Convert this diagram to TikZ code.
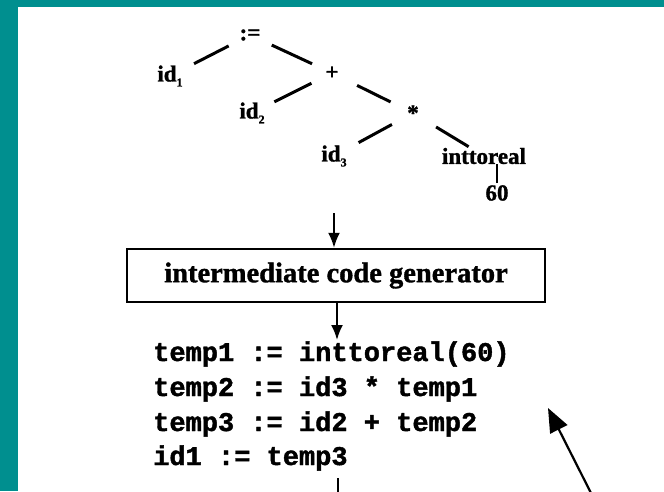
\documentclass[tikz,border=0pt]{standalone}
\usepackage{fontspec}
\setmainfont{Liberation Serif}
\setmonofont{Liberation Mono}
\newfontfamily\heavyserif[FakeBold=1.2]{Liberation Serif Bold}
\newfontfamily\heavymono[FakeBold=1.6]{Liberation Mono Bold}
\usetikzlibrary{arrows.meta}
\definecolor{frameteal}{RGB}{0,143,143}
\tikzset{
  treelabel/.style={font=\heavyserif\fontsize{23}{23}\selectfont, inner sep=0pt},
  treeedge/.style={line width=3pt},
  flowarrow/.style={line width=2pt, -{Latex[length=15pt,width=12pt]}},
  genbox/.style={draw, line width=2.4pt, minimum width=418pt, minimum height=53pt,
    inner sep=0pt, font=\heavyserif\fontsize{28.5}{28.5}\selectfont},
  codeline/.style={font=\heavymono\fontsize{27}{27}\selectfont,
    anchor=base west, inner sep=0pt},
  pointer/.style={line width=2.2pt, -{Triangle[length=24pt,width=19pt]}}
}
\newcommand{\idsub}[1]{id\raisebox{-5pt}{\fontsize{12}{12}\selectfont #1}}
\begin{document}
\begin{tikzpicture}[x=1pt,y=-1pt]
  % frame and page
  \fill[frameteal] (0,0) rectangle (664,491);
  \fill[white] (18,7) rectangle (664,491);
  \useasboundingbox (0,0) rectangle (664,491);

  % syntax tree
  \node[treelabel] (assign) at (250,35) {:=};
  \node[treelabel] (id1) at (170,76) {\idsub{1}};
  \node[treelabel] (plus) at (332,73) {+};
  \node[treelabel] (id2) at (252,113) {\idsub{2}};
  \node[treelabel] (star) at (413,113) {*};
  \node[treelabel] (id3) at (334,156) {\idsub{3}};
  \node[treelabel] (conv) at (484,156) {inttoreal};
  \node[treelabel] (sixty) at (497,193) {60};

  \draw[treeedge, shorten <=24pt, shorten >=27pt] (assign.center) -- (id1.center);
  \draw[treeedge, shorten <=24pt, shorten >=22pt] (assign.center) -- (plus.center);
  \draw[treeedge, shorten <=23pt, shorten >=25pt] (plus.center) -- (id2.center);
  \draw[treeedge, shorten <=28pt, shorten >=25pt] (plus.center) -- (star.center);
  \draw[treeedge, shorten <=24pt, shorten >=28pt] (star.center) -- (id3.center);
  \draw[treeedge, shorten <=27pt, shorten >=18pt] (star.center) -- (conv.center);
  \draw[line width=2pt, shorten <=2pt] (sixty.north) -- (sixty.north |- conv.south);

  % generator box and arrows
  \node[genbox] (gen) at (336,275.5) {intermediate code generator};
  \coordinate (treeout) at (334,213);
  \coordinate (codein) at (337,340);
  \draw[flowarrow] (treeout) -- (treeout |- gen.north);
  \draw[flowarrow] (gen.south -| codein) -- (codein);

  % three-address code
  \node[codeline] (c1) at (153,361) {temp1 := inttoreal(60)};
  \node[codeline] (c2) at (153,396) {temp2 := id3 * temp1};
  \node[codeline] (c3) at (153,431) {temp3 := id2 + temp2};
  \node[codeline] (c4) at (153,465) {id1 := temp3};

  \coordinate (codeout) at (338,478);
  \coordinate (pagebottom) at (338,495);
  \draw[line width=1.8pt] (codeout) -- (pagebottom);

  % pointer arrow
  \coordinate (ptail) at (593,497);
  \coordinate (phead) at (548,408);
  \draw[pointer] (ptail) -- (phead);
\end{tikzpicture}
\end{document}
